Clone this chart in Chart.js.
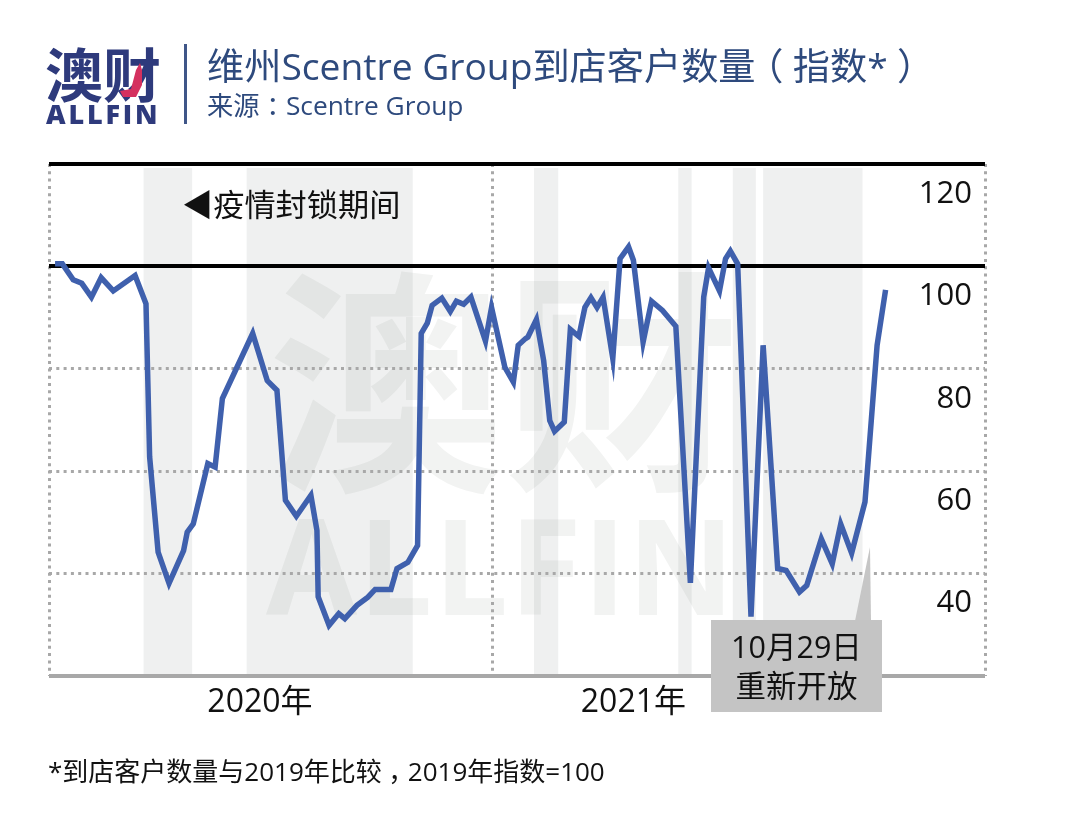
<!DOCTYPE html>
<html lang="zh-CN">
<head>
    <meta charset="utf-8">
    <title>维州Scentre Group到店客户数量（指数*）</title>
    <script src="https://cdn.jsdelivr.net/npm/chart.js"></script>
    <style>
        html, body { margin: 0; padding: 0; background: #fff; }
        body {
            position: relative;
            width: 1080px;
            height: 840px;
            overflow: hidden;
            font-family: "Open Sans", "Noto Sans CJK SC", sans-serif;
        }
        canvas { position: absolute; left: 0; top: 0; z-index: 1; }
        .txt { position: absolute; white-space: nowrap; z-index: 2; }
        .pc { display: inline-block; width: 1em; text-align: center; font-feature-settings: "halt"; }
        .wm {
            position: absolute;
            white-space: nowrap;
            z-index: 0;
            font-weight: 700;
            color: #f2f3f2;
        }
        #logoCn { left: 45px; top: 34px; font-size: 58px; line-height: 76px; font-weight: 700; color: #2e3a7c; font-family: "Noto Sans CJK SC", sans-serif; }
        #logoEn { left: 46px; top: 98px; font-size: 27px; line-height: 32px; font-weight: 800; color: #2e3a7c; letter-spacing: 2.8px; }
        #divider { position: absolute; left: 184px; top: 44px; width: 3px; height: 80px; background: #3f5688; z-index: 2; }
        #title { left: 207px; top: 40px; font-size: 37.2px; line-height: 52px; color: #2e4a7d; }
        #source { left: 207px; top: 87px; font-size: 26.3px; line-height: 36px; color: #2e4a7d; }
        #lockdown { left: 182px; top: 184px; font-size: 31.2px; line-height: 40px; color: #111; }
        #footnote { left: 48px; top: 753px; font-size: 26px; line-height: 36px; color: #111; }
        #reopen {
            position: absolute;
            left: 711px;
            top: 620px;
            width: 171px;
            height: 92px;
            background: #c4c4c4;
            z-index: 2;
        }
        #reopenText { left: 711px; width: 171px; top: 627px; text-align: center; font-size: 30.5px; line-height: 38.5px; color: #111; }
        svg { position: absolute; left: 0; top: 0; z-index: 2; }
    </style>
</head>
<body>
    <div class="wm" style="left:268px;top:200px;font-size:236px;line-height:340px;font-family:'Noto Sans CJK SC',sans-serif;">澳财</div>
    <div class="wm" style="left:266px;top:484px;font-size:132px;line-height:160px;letter-spacing:1px;">ALLFIN</div>

    <canvas id="visitorChart" width="1080" height="840"></canvas>

    <div class="txt" id="logoCn">澳财</div>
    <div class="txt" id="logoEn">ALLFIN</div>
    <svg width="1080" height="840">
        <polygon points="140,63 142,70 142,85 136,97 123,97 120,91 131,89 136,70" fill="#d4315f"></polygon>
        <polygon points="870,547 855,621 871,621" fill="#c6c6c6"></polygon>
    </svg>
    <div id="divider"></div>
    <div class="txt" id="title">维州Scentre Group到店客户数量<span class="pc">（</span>指数*<span class="pc">）</span></div>
    <div class="txt" id="source">来源<span class="pc">：</span>Scentre Group</div>
    <div class="txt" id="lockdown">◀疫情封锁期间</div>
    <div id="reopen"></div>
    <div class="txt" id="reopenText">10月29日<br>重新开放</div>
    <div class="txt" id="footnote">*到店客户数量与2019年比较<span class="pc">，</span>2019年指数=100</div>

    <script>
        // x values are days counted from 1 Jan 2020
        const days = [5, 11, 20, 27, 35, 43, 53, 71, 80, 83, 90, 99, 111, 114, 119, 131, 137, 143, 168, 180, 188, 195, 204, 216, 221, 222,
            231, 239, 244, 254, 263, 269, 282, 287, 296, 304, 307, 312, 316, 324, 331, 336, 342, 348, 360, 365,
            376, 383, 387, 393, 395, 402, 408, 413, 417, 425, 430, 437, 442, 447, 452, 457, 465, 471, 478, 482, 490, 497, 506, 517, 529,
            540, 544, 553, 558, 562, 568, 579, 589, 601, 608, 619, 625, 637, 646, 653, 662, 673, 683, 690];
        const visitorIndex = [100.5, 100.5, 97.4, 96.7, 94, 97.8, 95.2, 98.2, 92.7, 62.8, 44.2, 38.1, 44.5, 48.1, 49.7, 61.5, 60.8, 74.2, 86.9, 77.7, 75.8, 54.3, 51.2, 55.3, 48.4, 35.5,
            29.9, 32.2, 31.2, 33.8, 35.4, 36.9, 36.9, 41, 42.2, 45.5, 86.9, 88.9, 92.4, 93.8, 91.2, 93.2, 92.6, 94, 85.4, 92,
            80.3, 77.4, 84.6, 85.9, 86.2, 89.6, 81.6, 69.9, 67.8, 69.6, 87.7, 86.3, 92, 93.9, 92, 94, 82, 101.5, 103.8, 101.2, 85.2, 93.2, 91.4, 88.3, 38.2,
            94, 99.7, 95.2, 101.5, 103, 100.5, 31.6, 84.6, 41, 40.6, 36.4, 37.7, 46.8, 41.9, 49.7, 44, 54, 84.6, 95.4];

        const lockdownStart = [78, 163, 400, 519, 564, 589];
        const lockdownEnd = [118, 300, 420, 530, 583, 671];

        const yTicks = [20, 40, 60, 80, 100, 120];
        const yTickLabels = ['', '40', '60', '80', '100', '120'];
        const solidLines = [20, 100, 120];
        const yearLines = [0, 366, 772];
        const yearLabelDays = [174, 482];
        const yearLabels = ['2020年', '2021年'];

        const fontFamily = '"Open Sans", "Noto Sans CJK SC", sans-serif';

        // grey lockdown bands behind the grid
        const lockdownBands = {
            id: 'lockdownBands',
            beforeDraw(chart) {
                const { ctx, chartArea, scales } = chart;
                ctx.save();
                ctx.fillStyle = 'rgba(110, 125, 125, 0.115)';
                lockdownStart.forEach((start, i) => {
                    const x1 = scales.x.getPixelForValue(start);
                    const x2 = scales.x.getPixelForValue(lockdownEnd[i]);
                    ctx.fillRect(x1, chartArea.top + 4, x2 - x1, chartArea.height - 6);
                });
                ctx.restore();
            }
        };

        new Chart(document.getElementById('visitorChart'), {
            type: 'line',
            data: {
                datasets: [{
                    data: days.map((d, i) => ({ x: d, y: visitorIndex[i] })),
                    borderColor: '#3f60ad',
                    borderWidth: 5.5,
                    pointRadius: 0,
                    tension: 0,
                    fill: false
                }]
            },
            options: {
                responsive: false,
                animation: false,
                devicePixelRatio: 1,
                layout: { autoPadding: false, padding: { left: 49, right: 95, top: 164, bottom: 0 } },
                plugins: { legend: { display: false }, tooltip: { enabled: false } },
                scales: {
                    x: {
                        type: 'linear',
                        min: 0,
                        max: 772,
                        afterBuildTicks: scale => {
                            scale.ticks = [...yearLines, ...yearLabelDays].sort((a, b) => a - b).map(v => ({ value: v }));
                        },
                        afterFit: scale => { scale.height = 164; },
                        grid: {
                            color: ctx => yearLines.includes(ctx.tick.value) ? '#a8a8a8' : 'transparent',
                            lineWidth: 3,
                            drawTicks: false
                        },
                        border: { display: false, dash: [3, 4.3] },
                        ticks: {
                            autoSkip: false,
                            maxRotation: 0,
                            padding: 8,
                            color: '#111',
                            font: { family: fontFamily, size: 32 },
                            callback: value => {
                                const i = yearLabelDays.indexOf(value);
                                return i >= 0 ? yearLabels[i] : '';
                            }
                        }
                    },
                    y: {
                        position: 'right',
                        min: 20,
                        max: 120,
                        afterBuildTicks: scale => {
                            scale.ticks = yTicks.map(v => ({ value: v }));
                        },
                        afterFit: scale => { scale.width = 0; },
                        grid: {
                            color: ctx => (ctx.tick.value === 100 || ctx.tick.value === 120) ? '#000' : '#a8a8a8',
                            lineWidth: ctx => solidLines.includes(ctx.tick.value) ? 4 : 3,
                            drawTicks: false
                        },
                        border: {
                            display: false,
                            dash: ctx => (ctx.tick && solidLines.includes(ctx.tick.value)) ? [] : [3, 4.3]
                        },
                        ticks: {
                            mirror: true,
                            padding: -13,
                            labelOffset: 30,
                            color: '#111',
                            font: { family: fontFamily, size: 31 },
                            callback: value => yTickLabels[yTicks.indexOf(value)]
                        }
                    }
                }
            },
            plugins: [lockdownBands]
        });
    </script>
</body>
</html>
